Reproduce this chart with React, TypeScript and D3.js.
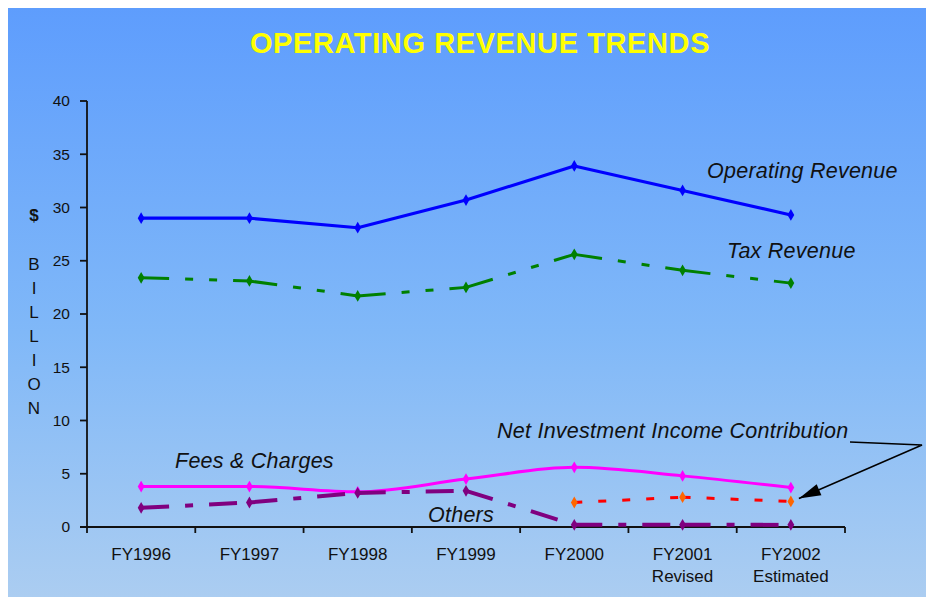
import React, { useEffect, useRef } from "react";
import * as d3 from "d3";

const categories = ["FY1996", "FY1997", "FY1998", "FY1999", "FY2000", "FY2001", "FY2002"];
const subLabels = ["", "", "", "", "", "Revised", "Estimated"];
const operatingRevenue = [29.0, 29.0, 28.1, 30.7, 33.9, 31.6, 29.3];
const taxRevenue = [23.4, 23.1, 21.7, 22.5, 25.6, 24.1, 22.9];
const feesCharges = [3.8, 3.8, 3.3, 4.5, 5.6, 4.8, 3.7];
const others = [1.8, 2.3, 3.2, 3.4, 0.2, 0.2, 0.2];
const netInvestment = [null, null, null, null, 2.3, 2.8, 2.4];
const yTicks = [0, 5, 10, 15, 20, 25, 30, 35, 40];
const yLabelLetters = ["$", "B", "I", "L", "L", "I", "O", "N"];

const W = 926;
const H = 597;

const App = () => {
  const ref = useRef(null);

  useEffect(() => {
    document.body.style.margin = "0";
    const svg = d3.select(ref.current);
    svg.selectAll("*").remove();

    const x = d3.scaleBand().domain(categories).range([87, 845]).padding(0);
    const cx = (c) => x(c) + x.bandwidth() / 2;
    const y = d3.scaleLinear().domain([0, 40]).range([527, 101]);

    // background
    const defs = svg.append("defs");
    const grad = defs
      .append("linearGradient")
      .attr("id", "bg")
      .attr("x1", 0)
      .attr("y1", 0)
      .attr("x2", 0)
      .attr("y2", 1);
    grad.append("stop").attr("offset", "0%").attr("stop-color", "#5e9dfd");
    grad.append("stop").attr("offset", "55%").attr("stop-color", "#80b8f8");
    grad.append("stop").attr("offset", "100%").attr("stop-color", "#abcdf1");

    svg.append("rect").attr("width", W).attr("height", H).attr("fill", "#ffffff");
    svg
      .append("rect")
      .attr("x", 8)
      .attr("y", 8)
      .attr("width", W - 8)
      .attr("height", H - 8)
      .attr("fill", "url(#bg)");

    // title
    svg
      .append("text")
      .attr("x", 480)
      .attr("y", 53)
      .attr("text-anchor", "middle")
      .attr("font-family", "Liberation Sans, Arial, sans-serif")
      .attr("font-weight", "bold")
      .attr("font-size", 29)
      .attr("letter-spacing", 0.6)
      .attr("fill", "#ffff00")
      .text("OPERATING REVENUE TRENDS");

    // axes
    const axisG = svg.append("g").attr("stroke", "#111").attr("stroke-width", 1.8);
    axisG.append("line").attr("x1", 87).attr("x2", 87).attr("y1", y(40)).attr("y2", y(0) + 1);
    axisG.append("line").attr("x1", 80).attr("x2", 845).attr("y1", y(0)).attr("y2", y(0));
    yTicks.forEach((t) => {
      axisG.append("line").attr("x1", 80).attr("x2", 87).attr("y1", y(t)).attr("y2", y(t));
    });
    categories.forEach((c) => {
      axisG.append("line").attr("x1", x(c)).attr("x2", x(c)).attr("y1", y(0)).attr("y2", y(0) + 6);
    });
    axisG.append("line").attr("x1", 845).attr("x2", 845).attr("y1", y(0)).attr("y2", y(0) + 6);

    const font = "Liberation Sans, Arial, sans-serif";
    svg
      .append("g")
      .selectAll("text")
      .data(yTicks)
      .enter()
      .append("text")
      .attr("x", 70)
      .attr("y", (d) => y(d))
      .attr("dy", "0.35em")
      .attr("text-anchor", "end")
      .attr("font-family", font)
      .attr("font-size", 15.5)
      .attr("fill", "#111")
      .text((d) => d);

    const xl = svg.append("g").attr("font-family", font).attr("font-size", 17).attr("fill", "#111");
    categories.forEach((c, i) => {
      xl.append("text").attr("x", cx(c)).attr("y", 560).attr("text-anchor", "middle").text(c);
      if (subLabels[i])
        xl.append("text").attr("x", cx(c)).attr("y", 582).attr("text-anchor", "middle").text(subLabels[i]);
    });

    svg
      .append("g")
      .selectAll("text")
      .data(yLabelLetters)
      .enter()
      .append("text")
      .attr("x", 34)
      .attr("y", (d, i) => (i === 0 ? 221 : 270 + (i - 1) * 24))
      .attr("text-anchor", "middle")
      .attr("font-family", font)
      .attr("font-size", 17)
      .attr("font-weight", (d) => (d === "$" ? "bold" : "normal"))
      .attr("fill", "#111")
      .text((d) => d);

    // series
    const series = [
      { values: operatingRevenue, color: "#0000ff", marker: "#0000ff", width: 3.2, dash: null, curve: d3.curveLinear },
      { values: taxRevenue, color: "#008000", marker: "#008000", width: 3, dash: "28,16,8,16,8,16", curve: d3.curveLinear },
      { values: feesCharges, color: "#ff00ff", marker: "#ff00ff", width: 3, dash: null, curve: d3.curveMonotoneX },
      { values: others, color: "#800080", marker: "#800080", width: 4, dash: "28,16,8,16", curve: d3.curveLinear },
      { values: netInvestment, color: "#ff0000", marker: "#ff6600", width: 3, dash: "8,16", curve: d3.curveLinear },
    ];

    series.forEach((s) => {
      const pts = categories
        .map((c, i) => ({ c, v: s.values[i] }))
        .filter((p) => p.v !== null);
      const line = d3
        .line()
        .x((p) => cx(p.c))
        .y((p) => y(p.v))
        .curve(s.curve);
      if (!s.dash) {
        svg
          .append("path")
          .attr("d", line(pts))
          .attr("fill", "none")
          .attr("stroke", s.color)
          .attr("stroke-width", s.width)
          .attr("stroke-linejoin", "round");
      } else {
        // dash pattern restarts at every point
        for (let i = 0; i < pts.length - 1; i++) {
          svg
            .append("path")
            .attr("d", line([pts[i], pts[i + 1]]))
            .attr("fill", "none")
            .attr("stroke", s.color)
            .attr("stroke-width", s.width)
            .attr("stroke-dasharray", s.dash);
        }
      }
      svg
        .append("g")
        .selectAll("path")
        .data(pts)
        .enter()
        .append("path")
        .attr("transform", (p) => `translate(${cx(p.c)},${y(p.v)})`)
        .attr("d", d3.symbol().type(d3.symbolDiamond).size(40)())
        .attr("fill", s.marker);
    });

    // labels
    const lab = svg
      .append("g")
      .attr("font-family", font)
      .attr("font-style", "italic")
      .attr("font-size", 21.5)
      .attr("letter-spacing", 0.25)
      .attr("fill", "#111");
    lab.append("text").attr("x", 707).attr("y", 178).text("Operating Revenue");
    lab.append("text").attr("x", 727).attr("y", 258).text("Tax Revenue");
    lab.append("text").attr("x", 175).attr("y", 468).text("Fees & Charges");
    lab.append("text").attr("x", 428).attr("y", 522).text("Others");
    lab.append("text").attr("x", 497).attr("y", 438).text("Net Investment Income Contribution");

    // arrow
    const tip = [cx("FY2002") + 8, y(netInvestment[6]) - 3];
    const knee = [922, 445];
    svg
      .append("path")
      .attr("d", `M850,442L${knee[0]},${knee[1]}L${tip[0]},${tip[1]}`)
      .attr("fill", "none")
      .attr("stroke", "#000")
      .attr("stroke-width", 1.5);
    const dx = tip[0] - knee[0];
    const dy = tip[1] - knee[1];
    const len = Math.sqrt(dx * dx + dy * dy);
    const ux = dx / len;
    const uy = dy / len;
    const bx = tip[0] - 22 * ux;
    const by = tip[1] - 22 * uy;
    svg
      .append("path")
      .attr(
        "d",
        `M${tip[0]},${tip[1]}L${bx - 6 * uy},${by + 6 * ux}L${bx + 6 * uy},${by - 6 * ux}Z`
      )
      .attr("fill", "#000");
  }, []);

  return <svg ref={ref} width={W} height={H} style={{ display: "block" }} />;
};

export default App;
